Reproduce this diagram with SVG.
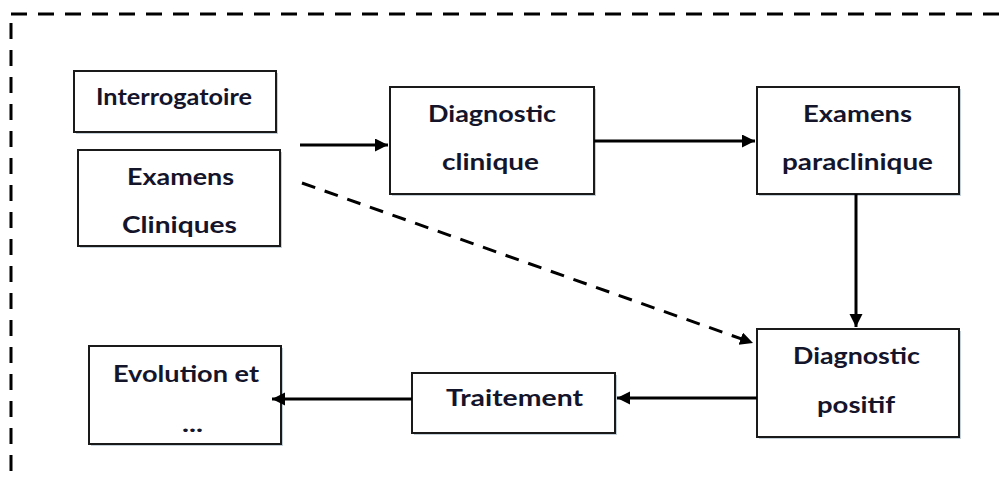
<svg xmlns="http://www.w3.org/2000/svg" width="1006" height="477" viewBox="0 0 1006 477">
<style>
.box{fill:#fff;stroke:#1a1a1a;stroke-width:2}
.sh{fill:#c3d0da}
.t{font-family:Lato,"Liberation Sans",sans-serif;font-weight:bold;fill:#14142a;font-size:23px}
.c{fill:none;stroke:#000;stroke-width:3}
</style>
<defs>
<marker id="ah" markerUnits="userSpaceOnUse" markerWidth="14" markerHeight="14" refX="13" refY="6.5" orient="auto">
<path d="M0,0 L13,6.5 L0,13 z" fill="#000"/>
</marker>
</defs>
<rect x="11" y="14" width="1100" height="600" fill="none" stroke="#000" stroke-width="3" stroke-dasharray="16 11"/>

<g id="interrogatoire">
<rect class="sh" x="76" y="73" width="202" height="61"/>
<rect class="box" x="74" y="71" width="202" height="61"/>
<text class="t" x="96" y="105" font-size="21" textLength="156" lengthAdjust="spacingAndGlyphs">Interrogatoire</text>
</g>
<g id="examens-cliniques">
<rect class="sh" x="80" y="152" width="202" height="96"/>
<rect class="box" x="78" y="150" width="202" height="96"/>
<text class="t" x="127" y="185" textLength="107" lengthAdjust="spacingAndGlyphs">Examens</text>
<text class="t" x="122" y="233" textLength="115" lengthAdjust="spacingAndGlyphs">Cliniques</text>
</g>
<g id="diagnostic-clinique">
<rect class="sh" x="392" y="89" width="204" height="107"/>
<rect class="box" x="390" y="87" width="204" height="107"/>
<text class="t" x="428" y="122" textLength="128" lengthAdjust="spacingAndGlyphs">Diagnostic</text>
<text class="t" x="442" y="170" textLength="97" lengthAdjust="spacingAndGlyphs">clinique</text>
</g>
<g id="examens-paraclinique">
<rect class="sh" x="759" y="89" width="202" height="107"/>
<rect class="box" x="757" y="87" width="202" height="107"/>
<text class="t" x="803" y="122" textLength="109" lengthAdjust="spacingAndGlyphs">Examens</text>
<text class="t" x="782" y="170" textLength="151" lengthAdjust="spacingAndGlyphs">paraclinique</text>
</g>
<g id="diagnostic-positif">
<rect class="sh" x="759" y="331" width="202" height="108"/>
<rect class="box" x="757" y="329" width="202" height="108"/>
<text class="t" x="793" y="364" textLength="127" lengthAdjust="spacingAndGlyphs">Diagnostic</text>
<text class="t" x="817" y="413" textLength="78" lengthAdjust="spacingAndGlyphs">positif</text>
</g>
<g id="traitement">
<rect class="sh" x="414" y="375" width="203" height="60"/>
<rect class="box" x="412" y="373" width="203" height="60"/>
<text class="t" x="446" y="406" textLength="137" lengthAdjust="spacingAndGlyphs">Traitement</text>
</g>
<g id="evolution">
<rect class="sh" x="91" y="348" width="192" height="98"/>
<rect class="box" x="89" y="346" width="192" height="98"/>
<text class="t" x="113" y="382" textLength="146" lengthAdjust="spacingAndGlyphs">Evolution et</text>
<text class="t" x="182" y="432" font-size="16" textLength="21" lengthAdjust="spacingAndGlyphs">...</text>
</g>

<g id="connectors">
<line class="c" x1="300" y1="145" x2="388" y2="145" marker-end="url(#ah)"/>
<line class="c" x1="594" y1="141" x2="755" y2="141" marker-end="url(#ah)"/>
<line class="c" x1="856" y1="194" x2="856" y2="327" marker-end="url(#ah)"/>
<line class="c" x1="757" y1="398" x2="617" y2="398" marker-end="url(#ah)"/>
<line class="c" x1="412" y1="399" x2="272" y2="399" marker-end="url(#ah)"/>
<line class="c" x1="302" y1="183" x2="753" y2="343" stroke-dasharray="14 10" marker-end="url(#ah)"/>
</g>
</svg>
